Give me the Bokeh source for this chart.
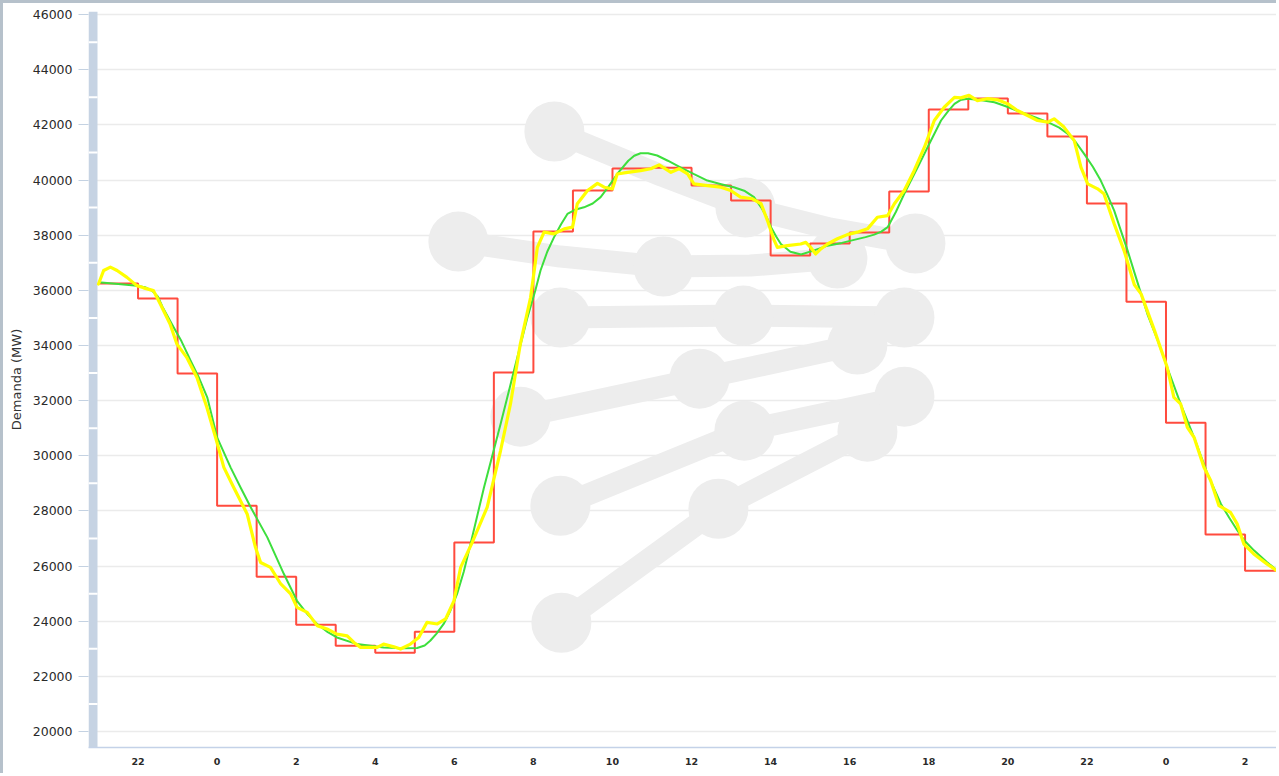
from bokeh.plotting import figure
from bokeh.models import FixedTicker, Range1d
from bokeh.embed import file_html
from bokeh.resources import INLINE

# ---------------- data ----------------
# Programmed demand (red, hourly steps), hour counted from day-1 00:00
prog_hours = list(range(21, 51))
prog_mw = [36250, 35700, 32980, 28190, 25610, 23870, 23110, 22860, 23620, 26850,
           33020, 38130, 39620, 40420, 40450, 39800, 39260, 37260, 37700, 38100,
           39580, 42560, 42960, 42410, 41580, 39150, 35590, 31200, 27140, 25830]

# Forecast demand (green)
fc_hours = [21.00, 21.50, 21.97, 22.20, 22.35, 22.50, 22.62, 22.90, 23.10, 23.33,
            23.55, 23.75, 24.00, 24.34, 24.60, 24.85, 25.27, 25.69, 26.02, 26.30,
            26.53, 26.80, 27.03, 27.54, 28.21, 28.70, 29.06, 29.25, 29.39, 29.55,
            29.73, 29.90, 30.07, 30.24, 30.41, 30.75, 31.17, 31.51, 31.85, 32.05,
            32.18, 32.35, 32.52, 32.70, 32.86, 33.05, 33.28, 33.50, 33.70, 33.90,
            34.12, 34.40, 34.55, 34.71, 34.90, 35.13, 35.40, 35.72, 36.05, 36.40,
            36.75, 37.07, 37.35, 37.58, 37.76, 37.90, 38.01, 38.14, 38.26, 38.50,
            38.77, 39.10, 39.44, 39.80, 40.11, 40.40, 40.62, 40.80, 40.96, 41.17,
            41.38, 41.55, 41.72, 41.97, 42.31, 42.50, 42.65, 42.80, 42.98, 43.30,
            43.66, 44.00, 44.33, 44.70, 45.01, 45.30, 45.51, 45.72, 45.93, 46.15,
            46.35, 46.52, 46.69, 46.85, 47.03, 47.20, 47.37, 47.53, 47.80, 48.03,
            48.37, 48.71, 49.05, 49.39, 49.60, 49.81, 50.00, 50.23, 50.55, 50.87]
fc_mw = [36290, 36230, 36170, 36100, 35990, 35780, 35400, 34660, 34150, 33450,
         32800, 32120, 30670, 29580, 28830, 28130, 27040, 25710, 24740, 24230,
         23900, 23600, 23410, 23170, 23050, 23020, 23030, 23120, 23290, 23550,
         23900, 24380, 24990, 25800, 26800, 28850, 31150, 33090, 35020, 36000,
         36720, 37400, 37920, 38400, 38770, 38920, 39010, 39150, 39380, 39760,
         40220, 40700, 40880, 40970, 40970, 40890, 40700, 40460, 40220, 39980,
         39850, 39740, 39600, 39380, 39010, 38650, 38290, 37950, 37680, 37400,
         37300, 37450, 37620, 37720, 37830, 37930, 38020, 38130, 38290, 38850,
         39500, 39980, 40460, 41190, 42160, 42520, 42760, 42900, 42950, 42900,
         42820, 42650, 42460, 42270, 42100, 41900, 41680, 41370, 40950, 40480,
         39980, 39450, 38890, 38200, 37440, 36650, 35870, 35140, 34150, 33210,
         31880, 30670, 29340, 28250, 27750, 27280, 26900, 26560, 26150, 25770]

# Real demand (yellow)
real_hours = [21.00, 21.13, 21.30, 21.47, 21.72, 21.97, 22.14, 22.39, 22.56, 22.81,
              22.98, 23.23, 23.49, 23.74, 23.96, 24.17, 24.42, 24.76, 24.97, 25.10,
              25.35, 25.61, 25.86, 26.02, 26.28, 26.53, 26.78, 27.03, 27.29, 27.46,
              27.63, 27.88, 28.05, 28.21, 28.47, 28.64, 28.89, 29.10, 29.31, 29.57,
              29.78, 29.99, 30.16, 30.45, 30.83, 31.17, 31.42, 31.67, 31.93, 32.10,
              32.27, 32.52, 32.78, 32.99, 33.11, 33.37, 33.62, 33.79, 34.00, 34.12,
              34.38, 34.71, 34.97, 35.18, 35.48, 35.68, 35.90, 36.06, 36.40, 36.74,
              36.99, 37.24, 37.54, 37.76, 37.92, 38.08, 38.17, 38.42, 38.76, 38.89,
              39.01, 39.14, 39.27, 39.44, 39.69, 39.94, 40.19, 40.45, 40.70, 40.96,
              41.13, 41.38, 41.63, 41.89, 42.14, 42.39, 42.65, 42.81, 43.02, 43.23,
              43.48, 43.74, 43.99, 44.24, 44.50, 44.75, 45.01, 45.17, 45.42, 45.68,
              45.85, 46.02, 46.27, 46.43, 46.69, 46.94, 47.20, 47.37, 47.71, 48.03,
              48.20, 48.37, 48.54, 48.71, 48.96, 49.13, 49.34, 49.63, 49.80, 49.97,
              50.22, 50.56, 50.87]
real_mw = [36230, 36720, 36840, 36720, 36470, 36170, 36090, 35990, 35510, 34780,
           34060, 33570, 32840, 31760, 30670, 29580, 28850, 27890, 26680, 26130,
           25950, 25350, 24990, 24500, 24320, 23840, 23720, 23530, 23470, 23230,
           23050, 23050, 23050, 23170, 23070, 22990, 23170, 23410, 23960, 23900,
           24080, 24740, 25950, 26850, 28130, 30190, 31880, 34060, 35750, 37560,
           38110, 38050, 38230, 38290, 39140, 39620, 39880, 39740, 39680, 40220,
           40280, 40340, 40410, 40550, 40280, 40410, 40220, 39860, 39800, 39740,
           39620, 39380, 39320, 39140, 38530, 37850, 37560, 37620, 37680, 37740,
           37560, 37320, 37500, 37680, 37870, 38020, 38110, 38230, 38650, 38710,
           39140, 39620, 40340, 41190, 42160, 42640, 43000, 42980, 43070, 42880,
           42950, 42910, 42770, 42520, 42340, 42160, 42100, 42220, 41920, 41430,
           40460, 39860, 39680, 39500, 38410, 37440, 36200, 35870, 34540, 33210,
           32120, 31880, 31030, 30670, 29580, 29100, 28190, 27950, 27530, 26800,
           26440, 26070, 25770]

x_tick_hours = [22, 24, 26, 28, 30, 32, 34, 36, 38, 40, 42, 44, 46, 48, 50]
x_tick_labels = ["22", "0", "2", "4", "6", "8", "10", "12", "14", "16", "18", "20", "22", "0", "2"]
y_tick_values = [20000, 22000, 24000, 26000, 28000, 30000, 32000, 34000,
                 36000, 38000, 40000, 42000, 44000, 46000]

# ---------------- layout helpers ----------------
PX_H = 39.53      # pixels per hour
PX_MW = 0.02756   # pixels per MW
X_START = 21 - 10 / PX_H
X_END = 21 + (1279 - 98.2) / PX_H
Y_START = 20000 - 16 / PX_MW
Y_END = 46000 + 3.1 / PX_MW


def pix(px, py):
    return 21 + (px - 98.2) / PX_H, 20000 + (730.7 - py) / PX_MW


p = figure(width=1276, height=773, output_backend="svg", toolbar_location=None,
           x_range=Range1d(X_START, X_END), y_range=Range1d(Y_START, Y_END),
           min_border_left=85, min_border_right=0, min_border_top=8,
           min_border_bottom=29)
p.styles = {"border-top": "3px solid #b6c1cb", "border-left": "3px solid #b6c1cb"}
p.outline_line_color = None
p.background_fill_color = "white"
p.border_fill_color = "white"

# grid
p.xgrid.visible = False
p.ygrid.ticker = FixedTicker(ticks=y_tick_values)
p.ygrid.grid_line_color = "#ebebeb"
p.ygrid.grid_line_width = 1.5

# y axis
p.yaxis.ticker = FixedTicker(ticks=y_tick_values)
p.yaxis.axis_line_color = None
p.yaxis.major_tick_out = 10
p.yaxis.major_tick_in = 0
p.yaxis.minor_tick_line_color = None
p.yaxis.major_tick_line_color = "#c4d2e2"
p.yaxis.major_label_standoff = 6
p.yaxis.major_label_text_font = "DejaVu Sans"
p.yaxis.major_label_text_font_size = "12.5px"
p.yaxis.major_label_text_color = "#2a2a2a"
p.yaxis.axis_label = "Demanda (MW)"
p.yaxis.axis_label_text_font = "DejaVu Sans"
p.yaxis.axis_label_text_font_size = "13px"
p.yaxis.axis_label_text_font_style = "normal"
p.yaxis.axis_label_text_color = "#333333"
p.yaxis.axis_label_standoff = 6

# x axis
p.xaxis.ticker = FixedTicker(ticks=x_tick_hours)
p.xaxis.major_label_overrides = {h: l for h, l in zip(x_tick_hours, x_tick_labels)}
p.xaxis.axis_line_color = "#c4d2e8"
p.xaxis.axis_line_width = 1.5
p.xaxis.major_tick_out = 0
p.xaxis.major_tick_in = 0
p.xaxis.minor_tick_line_color = None
p.xaxis.major_tick_line_color = None
p.xaxis.major_label_standoff = 10
p.xaxis.major_label_text_font = "DejaVu Sans"
p.xaxis.major_label_text_font_size = "9.5px"
p.xaxis.major_label_text_font_style = "bold"
p.xaxis.major_label_text_color = "#2a2a2a"

# left slider-like bar
bar_right = 21 - 1 / PX_H
p.quad(left=X_START, right=bar_right, bottom=Y_START, top=Y_END,
       fill_color="#c6d3e3", line_color=None)
breaks = [v + 1000 for v in y_tick_values[:-1]]
p.segment(x0=[X_START] * len(breaks), x1=[bar_right] * len(breaks),
          y0=breaks, y1=breaks, line_color="white", line_width=2)

# watermark logo
wm_paths_px = [
    [(554, 131), (661, 175), (745, 207), (830, 228), (915, 243)],
    [(458, 241), (560, 256), (663, 266), (750, 265), (837, 258)],
    [(560, 317), (743, 315), (904, 317)],
    [(520, 416), (699, 378), (857, 344)],
    [(560, 505), (744, 430), (904, 396)],
    [(561, 622), (718, 508), (867, 431)],
]
wm_xs, wm_ys, cx, cy = [], [], [], []
for path in wm_paths_px:
    pts = [pix(a, b) for a, b in path]
    wm_xs.append([q[0] for q in pts])
    wm_ys.append([q[1] for q in pts])
    ends = [pts[0], pts[len(pts) // 2], pts[-1]]
    for q in ends:
        cx.append(q[0])
        cy.append(q[1])
p.multi_line(wm_xs, wm_ys, line_color="#ededed", line_width=22,
             line_cap="round", line_join="round")
p.scatter(cx, cy, size=60, marker="circle", fill_color="#ededed", line_color=None)

# red programmed steps
step_x = prog_hours + [prog_hours[-1] + 1]
step_y = prog_mw + [prog_mw[-1]]
p.step(step_x, step_y, mode="after", line_color="#ff4b3e", line_width=2)

# green forecast
p.line(fc_hours, fc_mw, line_color="#3ddf3d", line_width=2, line_join="round")

# yellow real
p.line(real_hours, real_mw, line_color="#ffff00", line_width=3.2,
       line_join="round", line_cap="round")

open("out.html", "w").write(file_html(p, INLINE))
